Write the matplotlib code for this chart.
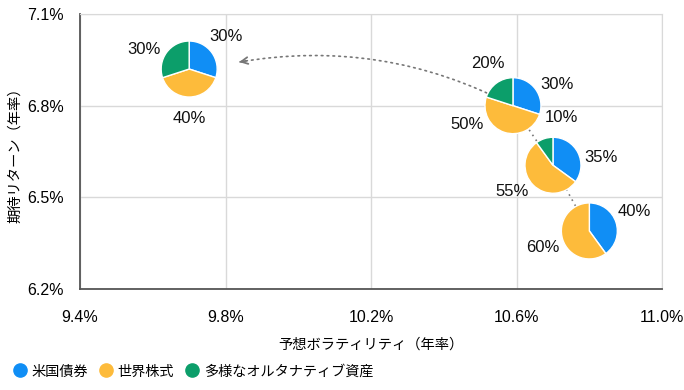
import numpy as np
import matplotlib.pyplot as plt
from matplotlib.patches import Wedge, FancyArrowPatch
from matplotlib.lines import Line2D
from matplotlib import transforms

plt.rcParams['font.family'] = ['Liberation Sans', 'Noto Sans CJK JP']

# ---- data ----
vol = [9.7, 10.59, 10.7, 10.8]          # 予想ボラティリティ (%)
ret = [6.92, 6.80, 6.605, 6.39]         # 期待リターン (%)
bonds = [30, 30, 35, 40]
equity = [40, 50, 55, 60]
alts = [30, 20, 10, 0]
asset_names = ['米国債券', '世界株式', '多様なオルタナティブ資産']
xticks = [9.4, 9.8, 10.2, 10.6, 11.0]
yticks = [6.2, 6.5, 6.8, 7.1]

# label directions (deg, clockwise from 12 o'clock) for bonds / equity / alts
label_ang = [[48, 180, 294],
             [64, 248, 329],
             [81, 237, 10],
             [67, 250, 0]]

colors = ['#108ef5', '#fdbb3b', '#0c9e6a']
grey_line = '#777777'
dpi = 100
r_px = 28

fig = plt.figure(figsize=(6.84, 3.90), dpi=dpi)
ax = fig.add_axes([0.117, 0.259, 0.851, 0.705])
ax.set_xlim(xticks[0], xticks[-1])
ax.set_ylim(yticks[0], yticks[-1])
ax.set_xticks(xticks)
ax.set_xticklabels(['%.1f%%' % v for v in xticks])
ax.set_yticks(yticks)
ax.set_yticklabels(['%.1f%%' % v for v in yticks])
ax.tick_params(length=0, labelsize=11.5)
ax.tick_params(axis='x', pad=15)
ax.tick_params(axis='y', pad=11.5)
ax.grid(True, color='#d9d9d9', lw=1)
ax.set_axisbelow(True)
for s in ['top', 'right']:
    ax.spines[s].set_color('#d9d9d9')
for s in ['left', 'bottom']:
    ax.spines[s].set_color('#555555')
    ax.spines[s].set_linewidth(1.3)
ax.set_xlabel('予想ボラティリティ（年率）', fontsize=10.3, labelpad=9)
ax.set_ylabel('期待リターン（年率）', fontsize=10.3, labelpad=4)

# dotted path between portfolios (behind the pies)
ax.plot(vol[1:], ret[1:], color=grey_line, lw=1.2, ls=(0, (1, 2.5)), zorder=2)

# curved dotted arrow from portfolio 2 toward portfolio 1
to_disp = ax.transData.transform
A = to_disp((vol[1], ret[1]))
B = to_disp((vol[0], ret[0])) + np.array([r_px + 22, 7])
rad = 0.17
C = np.array([(A[0] + B[0]) / 2 + rad * (B[1] - A[1]),
              (A[1] + B[1]) / 2 - rad * (B[0] - A[0])])
inv = ax.transData.inverted()
Bd = inv.transform(B)
arc = FancyArrowPatch(posA=(vol[1], ret[1]), posB=tuple(Bd),
                      connectionstyle='arc3,rad=%.2f' % rad, arrowstyle='-',
                      color=grey_line, lw=1.2, ls=(0, (1, 2.5)),
                      shrinkA=0, shrinkB=0, zorder=2)
ax.add_patch(arc)
u = (B - C) / np.linalg.norm(B - C)
ax.annotate('', xy=tuple(Bd), xytext=tuple(inv.transform(B - u * 7)),
            arrowprops=dict(arrowstyle='->', color=grey_line, lw=1.3,
                            mutation_scale=12, shrinkA=0, shrinkB=0), zorder=2)

# pies
for i, (x, y) in enumerate(zip(vol, ret)):
    trans = (transforms.Affine2D().scale(r_px / dpi) + fig.dpi_scale_trans
             + transforms.ScaledTranslation(x, y, ax.transData))
    start = 0
    for v, c, la in zip([bonds[i], equity[i], alts[i]], colors, label_ang[i]):
        if v == 0:
            continue
        t1 = 90 - 3.6 * (start + v)
        t2 = 90 - 3.6 * start
        ax.add_patch(Wedge((0, 0), 1, t1, t2, facecolor=c, edgecolor='white',
                           lw=1, transform=trans, zorder=3))
        a = np.radians(90 - la)
        ax.text(1.75 * np.cos(a), 1.75 * np.sin(a), '%d%%' % v, transform=trans,
                ha='center', va='center', fontsize=12, color='#111111', zorder=4)
        start += v

handles = [Line2D([], [], marker='o', ls='', markersize=9.5, color=c) for c in colors]
fig.legend(handles, asset_names, loc='lower left', bbox_to_anchor=(0.0, -0.003),
           ncol=3, frameon=False, fontsize=10.2, handletextpad=0.3,
           columnspacing=0.8, handlelength=1.0)

fig.savefig('out.png', dpi=dpi)
